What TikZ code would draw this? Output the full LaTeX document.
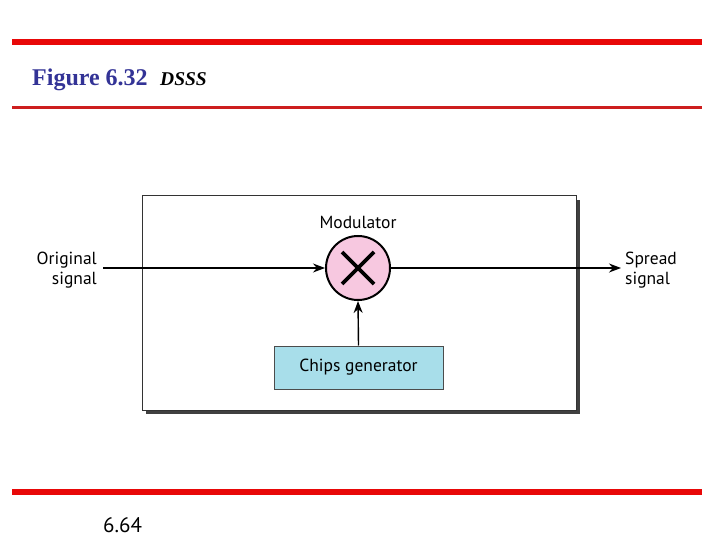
\documentclass[tikz,border=0pt]{standalone}
\usepackage{fontspec}
\setmainfont{Liberation Serif}
\setsansfont{PT Sans}
\usetikzlibrary{arrows.meta,calc}
\definecolor{rulered}{RGB}{232,8,8}
\definecolor{darkrule}{RGB}{205,30,30}
\definecolor{titleblue}{RGB}{51,51,150}
\definecolor{modpink}{RGB}{247,200,224}
\definecolor{chipblue}{RGB}{168,222,234}
\tikzset{
  lbl/.style={font=\sffamily\fontsize{17.5}{20.5}\selectfont},
  sig/.style={line width=1.4pt, -{Stealth[length=12pt,width=9pt]}}
}
\begin{document}
\begin{tikzpicture}[x=1pt,y=-1pt]
    \useasboundingbox (0,0) rectangle (720,540);

    % red rules
    \fill[rulered] (12,39) rectangle (702,45);
    \fill[darkrule] (12,106.5) rectangle (702,109.5);
    \fill[rulered] (12,489) rectangle (702,495);

    % title
    \node[anchor=base west, inner sep=0, text=titleblue,
          font=\bfseries\fontsize{24}{28}\selectfont] (title) at (32,86) {Figure 6.32};
    \node[anchor=base west, inner sep=0,
          font=\bfseries\itshape\fontsize{19.5}{23}\selectfont] (name) at (160,86) {DSSS};

    % frame with shadow
    \fill[black!75] (146,200) rectangle (580,414);
    \draw[black!80, line width=1pt, fill=white] (142,196) rectangle (576,410);

    % modulator
    \node[circle, draw, line width=2pt, fill=modpink, minimum size=64pt] (mod) at (358,268) {};
    \draw[line width=3.6pt] ($(mod.center)+(-16,-16)$) -- ($(mod.center)+(16,16)$);
    \draw[line width=3.6pt] ($(mod.center)+(-16,16)$) -- ($(mod.center)+(16,-16)$);
    \node[lbl] (modlbl) at (358,222) {Modulator};

    % chips generator
    \node[lbl, draw=black!70, line width=1pt, fill=chipblue, minimum width=169pt,
          minimum height=43pt] (chips) at (358.5,367.5) {Chips generator};
    \draw[sig] (chips.north) -- (mod.south);

    % signals
    \node[lbl, anchor=east, align=right, inner sep=0] (orig) at (97,270) {Original\\signal};
    \node[lbl, anchor=west, align=left, inner sep=0] (spread) at (625,270) {Spread\\signal};
    \coordinate (in) at (103,268);
    \coordinate (out) at (621,268);
    \draw[sig] (in) -- (mod.west);
    \draw[sig] (mod.east) -- (out);

    % page number
    \node[anchor=base west, inner sep=0, font=\sffamily\fontsize{21}{24}\selectfont] (page) at (103,532) {6.64};
\end{tikzpicture}
\end{document}
